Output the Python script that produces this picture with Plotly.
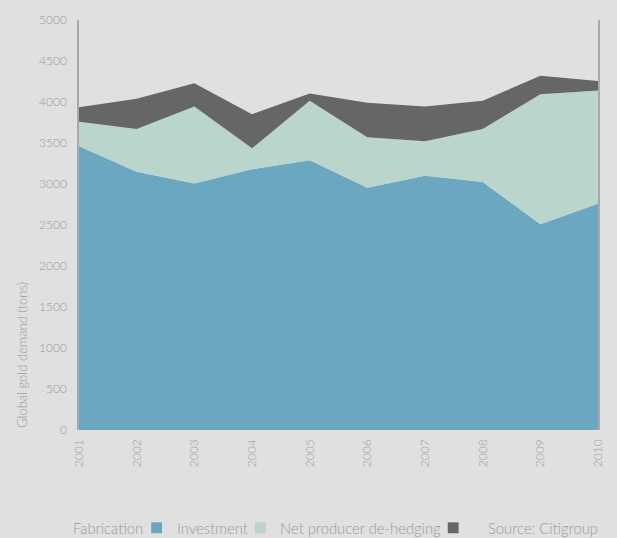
import plotly.graph_objects as go

years = ["2001", "2002", "2003", "2004", "2005", "2006", "2007", "2008", "2009", "2010"]
fabrication = [3460, 3150, 3005, 3180, 3290, 2955, 3100, 3025, 2510, 2760]
investment = [300, 520, 940, 255, 725, 615, 420, 645, 1585, 1380]
dehedging = [175, 370, 285, 415, 90, 420, 425, 345, 225, 115]
series_names = ["Fabrication", "Investment", "Net producer de-hedging"]
y_ticks = [0, 500, 1000, 1500, 2000, 2500, 3000, 3500, 4000, 4500, 5000]
source_text = "Source: Citigroup"

c_fab = "#6ba7c1"
c_inv = "#b9d5cc"
c_deh = "#666666"
colors = [c_fab, c_inv, c_deh]
bg = "#e0e0e0"
txt = "#9a9a9a"

fig = go.Figure()
for name, vals, col in zip(series_names, [fabrication, investment, dehedging], colors):
    fig.add_trace(go.Scatter(x=years, y=vals, name=name, stackgroup="one",
                             mode="lines", line=dict(width=0, color=col),
                             fillcolor=col, showlegend=False))

# legend built from annotations + square shapes (text before swatch)
W = 525.0   # plot width px
H = 413.0   # plot height px
def px_x(p):
    return (p - 79) / W
def px_y(p):
    return (430 - p) / H

leg_y = px_y(529)
text_right = [146, 252, 447]
sq_left = [152, 257, 452]
annotations = [
    dict(text="Global gold demand (tons)", textangle=-90, xref="paper", yref="paper",
         x=-0.11, y=0, xanchor="center", yanchor="bottom", showarrow=False,
         font=dict(size=13, color=txt, weight=300)),
    dict(text=source_text, xref="paper", yref="paper", x=px_x(606), y=leg_y,
         xanchor="right", yanchor="middle", showarrow=False,
         font=dict(size=14.8, color=txt, weight=300)),
]
shapes = []
for name, col, tr, sl in zip(series_names, colors, text_right, sq_left):
    annotations.append(dict(text=name, xref="paper", yref="paper", x=px_x(tr), y=leg_y,
                            xanchor="right", yanchor="middle", showarrow=False,
                            font=dict(size=14.8, color=txt, weight=300)))
    shapes.append(dict(type="rect", xref="paper", yref="paper",
                       x0=px_x(sl), x1=px_x(sl + 11), y0=px_y(534), y1=px_y(523),
                       fillcolor=col, line=dict(width=0)))

fig.update_layout(
    width=617, height=538,
    paper_bgcolor=bg, plot_bgcolor=bg,
    margin=dict(l=79, r=13, t=17, b=108),
    font=dict(family="Lato", color=txt, size=12, weight=300),
    xaxis=dict(type="category", range=[0, 9], tickangle=-90, showgrid=False,
               zeroline=False, showline=False, ticks="", ticklabelstandoff=6,
               tickfont=dict(size=12, color=txt, weight=300)),
    yaxis=dict(range=[0, 5000], tickvals=y_ticks, showgrid=False, zeroline=False,
               showline=True, linecolor="#a8a8a8", linewidth=1.5, mirror=True,
               ticks="", ticklabelstandoff=8, tickfont=dict(size=12, color=txt, weight=300)),
    annotations=annotations,
    shapes=shapes,
)

fig.write_html("out.html")
